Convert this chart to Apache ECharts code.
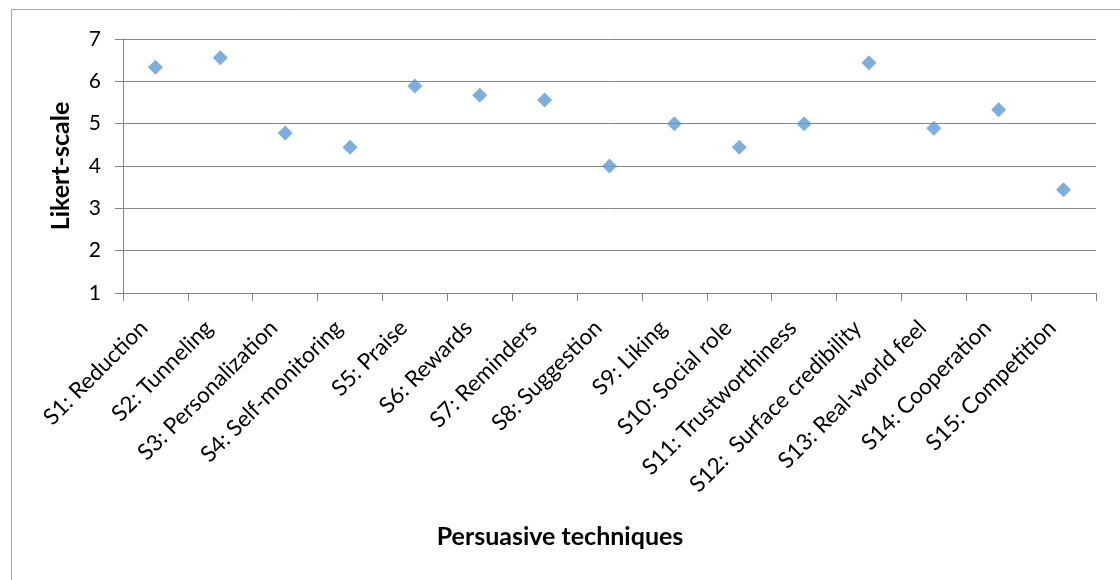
<!DOCTYPE html>
<html>
<head>
<meta charset="utf-8">
<script src="https://cdn.jsdelivr.net/npm/echarts@6/dist/echarts.min.js"></script>
<style>
  html, body { margin: 0; padding: 0; background: #fff; }
  #chart { width: 1120px; height: 580px; }
</style>
</head>
<body>
<div id="chart"></div>
<script>
// Persuasive techniques and their mean Likert-scale ratings
const techniques = [
  'S1: Reduction', 'S2: Tunneling', 'S3: Personalization', 'S4: Self-monitoring',
  'S5: Praise', 'S6: Rewards', 'S7: Reminders', 'S8: Suggestion', 'S9: Liking',
  'S10: Social role', 'S11: Trustworthiness', 'S12:  Surface credibility',
  'S13: Real-world feel', 'S14: Cooperation', 'S15: Competition'
];
const ratings = [6.33, 6.56, 4.78, 4.44, 5.89, 5.67, 5.56, 4.00, 5.00, 4.44, 5.00, 6.44, 4.89, 5.33, 3.44];
const yTicks = [1, 2, 3, 4, 5, 6, 7];

const FONT = 'Lato, "Open Sans", sans-serif';
const chart = echarts.init(document.getElementById('chart'), null, { renderer: 'canvas' });

chart.setOption({
  animation: false,
  backgroundColor: '#fff',
  graphic: [{
    type: 'rect',
    shape: { x: 11.5, y: 9.5, width: 1200, height: 700 },
    style: { fill: 'none', stroke: '#a6a6a6', lineWidth: 1 },
    silent: true
  }, {
    type: 'text',
    left: 'center',
    top: 524,
    style: { text: 'Persuasive techniques', font: 'bold 25px ' + FONT, fill: '#000' }
  }],
  grid: { left: 123, right: 24, top: 39, bottom: 287 },
  xAxis: {
    type: 'category',
    data: techniques,
    boundaryGap: true,
    axisLine: { lineStyle: { color: '#868686', width: 1 } },
    axisTick: { show: true, length: 8, lineStyle: { color: '#868686' } },
    axisLabel: {
      rotate: 45, margin: 20, interval: 0, padding: [0, 16, 0, 0],
      fontFamily: FONT, fontSize: 22.5, color: '#000'
    }
  },
  yAxis: {
    type: 'value',
    min: yTicks[0], max: yTicks[yTicks.length - 1], interval: 1,
    name: 'Likert-scale',
    nameLocation: 'middle',
    nameGap: 50,
    nameRotate: 90,
    nameTextStyle: { fontFamily: FONT, fontSize: 25, fontWeight: 'bold', color: '#000' },
    axisLine: { show: true, lineStyle: { color: '#868686', width: 1 } },
    axisTick: { show: true, length: 8, lineStyle: { color: '#868686' } },
    axisLabel: { margin: 22, fontFamily: FONT, fontSize: 21, color: '#000' },
    splitLine: { show: true, lineStyle: { color: '#868686', width: 1 } }
  },
  series: [{
    type: 'scatter',
    data: ratings,
    symbol: 'diamond',
    symbolSize: 15,
    itemStyle: { color: '#5B9BD5' }
  }]
});
</script>
</body>
</html>
